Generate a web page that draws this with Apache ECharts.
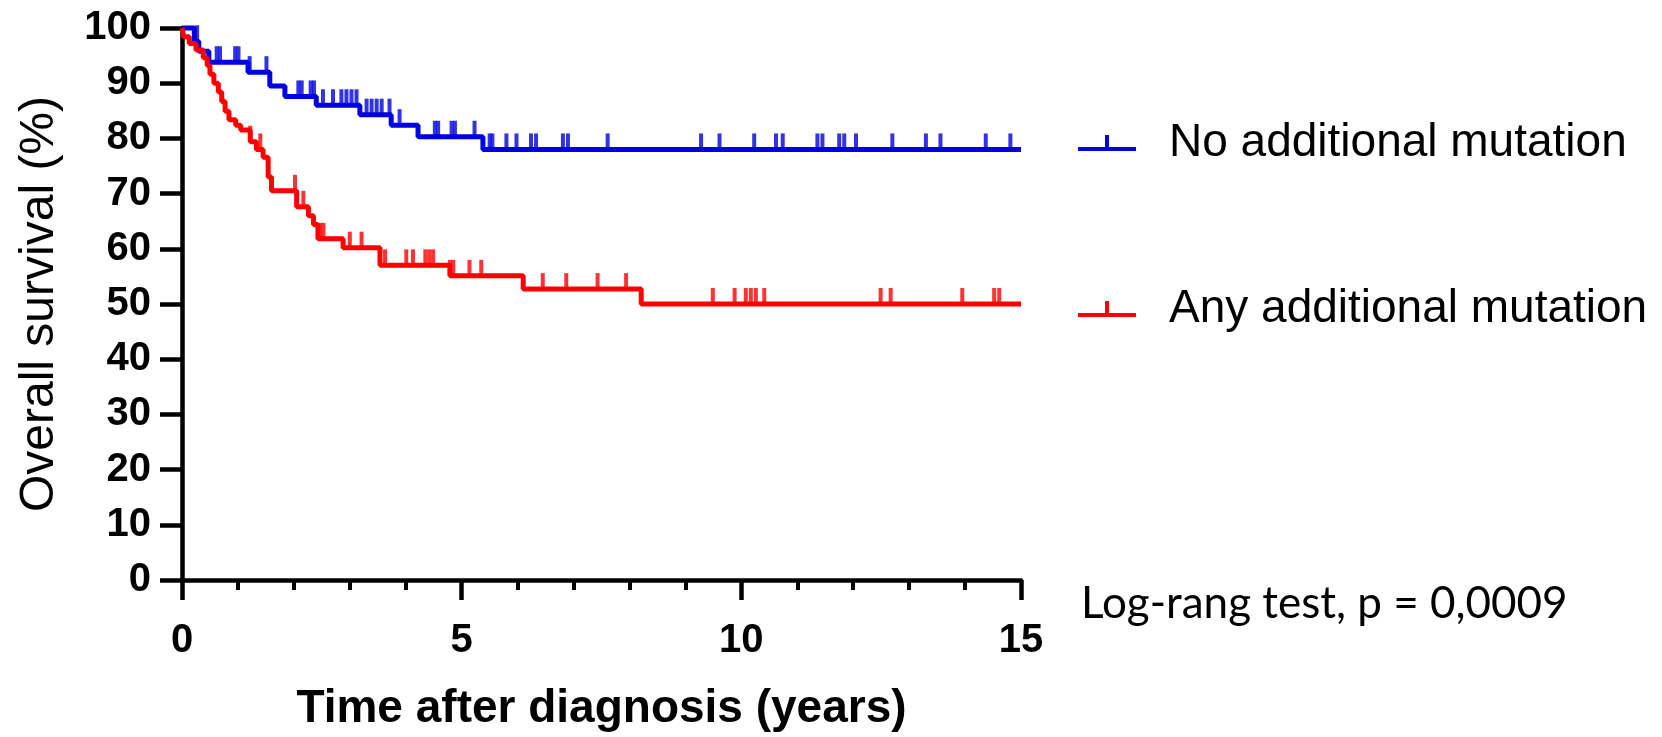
<!DOCTYPE html>
<html>
<head>
<meta charset="utf-8">
<title>Overall survival</title>
<script src="https://cdn.jsdelivr.net/npm/echarts@6/dist/echarts.min.js"></script>
<style>
  html, body { margin: 0; padding: 0; background: #fff; }
  #chart { width: 1662px; height: 737px; }
</style>
</head>
<body>
<div id="chart"></div>
<script>
// survival steps [years, %] for each group
var noMutSteps = [
  [0, 100], [0.22, 97.6], [0.3, 95.8], [0.48, 93.8], [1.18, 92.0], [1.57, 89.5],
  [1.84, 87.6], [2.4, 86.0], [3.18, 84.3], [3.74, 82.4], [4.22, 80.3], [5.38, 78.0],
  [15, 78.0]
];
var anyMutSteps = [
  [0, 100], [0.03, 98.4], [0.13, 97.2], [0.25, 96.0], [0.38, 94.6], [0.45, 93.2],
  [0.5, 91.6], [0.57, 90.0], [0.65, 88.4], [0.71, 86.7], [0.77, 84.9], [0.84, 83.4],
  [0.96, 82.4], [1.05, 81.5], [1.22, 79.4], [1.33, 78.0], [1.45, 76.6], [1.54, 73.0],
  [1.6, 70.5], [2.05, 67.6], [2.26, 66.0], [2.35, 64.4], [2.43, 61.8], [2.88, 60.2],
  [3.54, 57.0], [4.79, 55.1], [6.1, 52.7], [8.21, 50.0], [15, 50.0]
];
// censored times (years)
var noMutCensored = [
  0.27, 0.62, 0.68, 0.95, 1.01, 1.21, 1.51, 2.08, 2.14, 2.30, 2.36, 2.52, 2.70, 2.85,
  2.94, 3.03, 3.12, 3.30, 3.39, 3.48, 3.57, 3.71, 3.89, 4.52, 4.58, 4.82, 4.88, 5.23,
  5.50, 5.55, 5.80, 5.98, 6.24, 6.33, 6.81, 6.90, 7.61, 9.28, 9.61, 10.23, 10.62,
  10.74, 11.36, 11.45, 11.75, 11.84, 12.05, 12.70, 13.30, 13.56, 14.37, 14.81
];
var anyMutCensored = [
  1.22, 1.40, 2.02, 2.17, 2.47, 2.53, 3.0, 3.21, 3.63, 4.01, 4.13, 4.35, 4.42, 4.49,
  4.79, 4.85, 5.14, 5.35, 6.45, 6.87, 7.43, 7.94, 9.49, 9.88, 10.08, 10.17, 10.26,
  10.41, 12.49, 12.67, 13.95, 14.52, 14.61
];
var groupNames = ['No additional mutation', 'Any additional mutation'];
var yTicks = [0, 10, 20, 30, 40, 50, 60, 70, 80, 90, 100];
var xTicks = [0, 5, 10, 15];

var BLUE = '#0000e0';
var RED = '#ff0000';

// level of the curve at time t (last step at or before t)
function levelAt(steps, t) {
  var v = steps[0][1];
  for (var i = 0; i < steps.length; i++) {
    if (steps[i][0] <= t) v = steps[i][1];
  }
  return v;
}
function censorPoints(steps, times) {
  return times.map(function (t) { return [t, levelAt(steps, t)]; });
}

var myChart = echarts.init(document.getElementById('chart'));

var legendIcon = 'path://M0,12L58,12L58,16L0,16Z M27,0L31,0L31,12L27,12Z';

myChart.setOption({
  animation: false,
  grid: { left: 182, right: 641, top: 28, bottom: 152 },
  legend: {
    data: groupNames,
    orient: 'vertical',
    left: 1073,
    top: 113,
    itemWidth: 58,
    itemHeight: 16,
    itemGap: 116,
    icon: legendIcon,
    selectedMode: false,
    textStyle: {
      fontFamily: 'Liberation Sans, Arial, sans-serif',
      fontSize: 46,
      color: '#000',
      lineHeight: 50,
      padding: [0, 0, 0, 28]
    }
  },
  xAxis: {
    type: 'value',
    min: xTicks[0],
    max: xTicks[xTicks.length - 1],
    interval: 5,
    name: 'Time after diagnosis (years)',
    nameLocation: 'middle',
    nameGap: 106,
    nameTextStyle: {
      fontFamily: 'Liberation Sans, Arial, sans-serif',
      fontWeight: 'bold',
      fontSize: 46,
      color: '#000'
    },
    axisLine: { show: true, lineStyle: { color: '#000', width: 4.5 } },
    axisTick: { show: true, length: 20, lineStyle: { color: '#000', width: 4.5 } },
    minorTick: { show: true, splitNumber: 5, length: 10, lineStyle: { color: '#000', width: 4 } },
    axisLabel: {
      margin: 41,
      fontFamily: 'Liberation Sans, Arial, sans-serif',
      fontWeight: 'bold',
      fontSize: 40,
      color: '#000'
    },
    splitLine: { show: false }
  },
  yAxis: {
    type: 'value',
    min: yTicks[0],
    max: yTicks[yTicks.length - 1],
    interval: 10,
    name: 'Overall survival (%)',
    nameLocation: 'middle',
    nameGap: 118,
    nameRotate: 90,
    nameTextStyle: {
      fontFamily: 'Liberation Sans, Arial, sans-serif',
      fontSize: 48,
      color: '#000'
    },
    axisLine: { show: true, lineStyle: { color: '#000', width: 4.5 } },
    axisTick: { show: true, length: 22, lineStyle: { color: '#000', width: 4.5 } },
    axisLabel: {
      margin: 31,
      fontFamily: 'Liberation Sans, Arial, sans-serif',
      fontWeight: 'bold',
      fontSize: 40,
      color: '#000'
    },
    splitLine: { show: false }
  },
  graphic: [{
    type: 'text',
    left: 1081,
    top: 582,
    style: {
      text: 'Log-rang test, p = 0,0009',
      fontFamily: 'Lato, Open Sans, sans-serif',
      fontSize: 44,
      fill: '#000'
    }
  }],
  series: [
    {
      name: groupNames[0],
      type: 'line',
      step: 'end',
      data: noMutSteps,
      showSymbol: false,
      clip: false,
      z: 3,
      itemStyle: { color: BLUE },
      lineStyle: { color: BLUE, width: 5 }
    },
    {
      name: groupNames[1],
      type: 'line',
      step: 'end',
      data: anyMutSteps,
      showSymbol: false,
      clip: false,
      z: 4,
      itemStyle: { color: RED },
      lineStyle: { color: RED, width: 5 }
    },
    {
      name: 'censor-no',
      type: 'scatter',
      data: censorPoints(noMutSteps, noMutCensored),
      symbol: 'rect',
      symbolSize: [4, 16],
      symbolOffset: [0, -8],
      itemStyle: { color: BLUE },
      z: 3
    },
    {
      name: 'censor-any',
      type: 'scatter',
      data: censorPoints(anyMutSteps, anyMutCensored),
      symbol: 'rect',
      symbolSize: [4, 16],
      symbolOffset: [0, -8],
      itemStyle: { color: RED },
      z: 4
    }
  ]
});

window.addEventListener('resize', function () {
  myChart.resize();
});
</script>
</body>
</html>
